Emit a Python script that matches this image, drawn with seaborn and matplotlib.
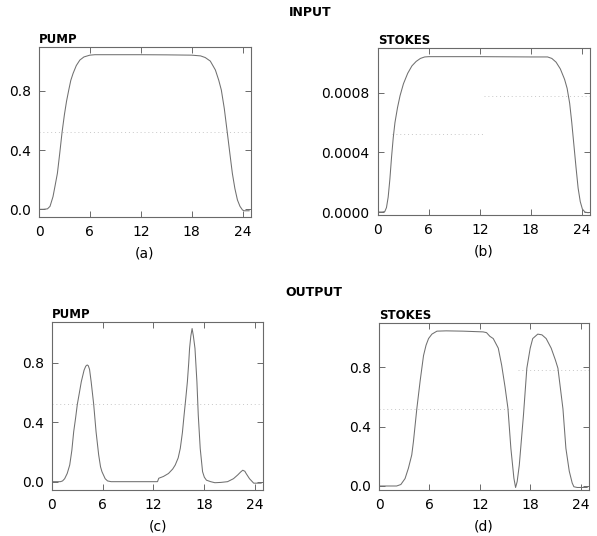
import numpy as np
import pandas as pd
import matplotlib
matplotlib.use("Agg")
import matplotlib.pyplot as plt
import seaborn as sns

# ---------------- data ----------------
x_in_pump = [0.0, 0.5, 1.0, 1.3, 1.65, 1.9, 2.17, 2.45, 2.72, 3.0, 3.25, 3.51, 3.75,
             4.02, 4.4, 4.82, 5.3, 6.0, 6.6, 9.0, 12.0, 15.0, 18.0, 19.05, 19.6,
             20.2, 20.8, 21.2, 21.5, 21.85, 22.2, 22.5, 22.8, 23.1, 23.4, 23.7,
             24.0, 24.2, 24.8]
y_in_pump = [0.0, 0.0, 0.003, 0.02, 0.085, 0.16, 0.243, 0.38, 0.52, 0.64, 0.73, 0.805,
             0.87, 0.917, 0.97, 1.007, 1.028, 1.04, 1.043, 1.043, 1.043, 1.042, 1.04,
             1.035, 1.024, 1.0, 0.94, 0.87, 0.805, 0.68, 0.52, 0.38, 0.243, 0.14,
             0.063, 0.02, -0.005, -0.01, -0.01]

x_in_stokes = [0.0, 0.5, 0.8, 1.0, 1.2, 1.4, 1.6, 1.8, 2.0, 2.3, 2.6, 3.0, 3.5,
               4.0, 4.5, 5.0, 5.5, 6.0, 9.0, 12.0, 15.0, 18.0, 20.0, 20.5, 21.0,
               21.5, 22.0, 22.3, 22.6, 22.85, 23.1, 23.35, 23.6, 23.85, 24.1, 24.4,
               24.8]
y_in_stokes = [0.0, 0.0, 0.000003, 0.00003, 0.0001, 0.00022, 0.00037, 0.0005,
               0.0006, 0.0007, 0.00078, 0.00086, 0.00093, 0.00098, 0.00101,
               0.00103, 0.00104, 0.001042, 0.001042, 0.001042, 0.001041, 0.00104,
               0.00104, 0.00103, 0.001005, 0.00096, 0.00089, 0.00083, 0.00073,
               0.0006, 0.00045, 0.0003, 0.00016, 0.00007, 0.00002, 0.0, -0.000005]

x_out_pump = [0.0, 1.0, 1.25, 1.5, 1.8, 2.1, 2.35, 2.57, 2.8, 3.0, 3.25, 3.47, 3.8,
              4.0, 4.17, 4.3, 4.45, 4.64, 4.94, 5.22, 5.53, 5.75, 5.92, 6.3, 6.58,
              7.0, 9.0, 12.5, 12.65, 13.2, 13.8, 14.3, 14.6, 14.95, 15.2, 15.45,
              15.65, 15.85, 16.04, 16.2, 16.3, 16.45, 16.6, 16.75, 16.94, 17.17,
              17.33, 17.56, 17.84, 18.05, 18.3, 18.8, 19.3, 20.0, 20.8, 21.5, 22.0,
              22.35, 22.6, 22.85, 23.0, 23.4, 23.9, 24.8]
y_out_pump = [0.0, 0.0, 0.005, 0.02, 0.055, 0.112, 0.21, 0.336, 0.43, 0.52, 0.6,
              0.672, 0.75, 0.777, 0.785, 0.78, 0.755, 0.672, 0.52, 0.336, 0.18,
              0.1, 0.067, 0.02, 0.005, 0.0, 0.0, 0.0, 0.023, 0.035, 0.055, 0.085,
              0.112, 0.16, 0.224, 0.33, 0.448, 0.56, 0.672, 0.8, 0.897, 0.98, 1.03,
              0.98, 0.897, 0.672, 0.448, 0.224, 0.067, 0.03, 0.01, 0.0, -0.007,
              -0.005, 0.0, 0.02, 0.045, 0.065, 0.077, 0.07, 0.055, 0.02, -0.01,
              -0.01]

x_out_stokes = [0.0, 2.1, 2.6, 3.1, 3.5, 3.9, 4.1, 4.3, 4.5, 4.9, 5.3, 5.6, 5.9, 6.3,
                6.9, 8.0, 10.0, 12.4, 12.8, 13.2, 13.6, 14.2, 14.6, 15.0, 15.35,
                15.7, 16.06, 16.26, 16.45, 16.7, 17.2, 17.6, 18.0, 18.3, 18.9, 19.4,
                19.9, 20.5, 21.0, 21.3, 21.9, 22.25, 22.65, 23.0, 23.2, 23.6, 24.8]
y_out_stokes = [0.0, 0.0, 0.01, 0.05, 0.12, 0.21, 0.3, 0.41, 0.52, 0.71, 0.88, 0.95,
                0.995, 1.025, 1.045, 1.047, 1.045, 1.04, 1.035, 1.01, 0.995, 0.93,
                0.816, 0.67, 0.524, 0.254, 0.052, -0.01, 0.03, 0.14, 0.48, 0.795,
                0.93, 0.995, 1.025, 1.02, 0.995, 0.93, 0.85, 0.795, 0.52, 0.254,
                0.1, 0.02, -0.005, -0.01, -0.01]

x_ticks = [0, 6, 12, 18, 24]
y_ticks_unit = [0.0, 0.4, 0.8]
y_ticklabels_unit = ["0.0", "0.4", "0.8"]
y_ticks_small = [0.0, 0.0004, 0.0008]
y_ticklabels_small = ["0.0000", "0.0004", "0.0008"]

# faint dotted scan artefacts: (x_start, x_end, level)
artefacts_a = [(0.0, 25.0, 0.52)]
artefacts_b = [(1.6, 12.5, 0.00052), (12.5, 25.0, 0.00078)]
artefacts_c = [(0.0, 25.0, 0.52)]
artefacts_d = [(0.0, 16.0, 0.52), (16.5, 25.0, 0.78)]

# ---------------- figure ----------------
sns.set_theme(style="ticks")
plt.rcParams["font.family"] = ["DejaVu Sans"]

W, H = 597, 536
fig = plt.figure(figsize=(W / 100, H / 100), dpi=100)


def axes_px(left, top, right, bottom):
    return fig.add_axes([left / W, 1 - bottom / H, (right - left) / W, (bottom - top) / H])


line_col = "#707070"
spine_col = "#6a6a6a"

panels = [
    (axes_px(39, 47, 251, 217), x_in_pump, y_in_pump, (-0.052, 1.095),
     y_ticks_unit, y_ticklabels_unit, "PUMP", "(a)", artefacts_a),
    (axes_px(378, 48, 590, 215), x_in_stokes, y_in_stokes, (-0.00002, 0.0011),
     y_ticks_small, y_ticklabels_small, "STOKES", "(b)", artefacts_b),
    (axes_px(52, 322, 263, 490), x_out_pump, y_out_pump, (-0.056, 1.074),
     y_ticks_unit, y_ticklabels_unit, "PUMP", "(c)", artefacts_c),
    (axes_px(379, 323, 589, 490), x_out_stokes, y_out_stokes, (-0.027, 1.10),
     y_ticks_unit, y_ticklabels_unit, "STOKES", "(d)", artefacts_d),
]

for ax, xs, ys, ylim, yt, ytl, title, lab, arts in panels:
    df = pd.DataFrame({"t": xs, "v": ys})
    for x0, x1, lev in arts:
        ax.hlines(lev, x0, x1, colors="#c8c8c8", linestyles=(0, (1, 3)), linewidth=0.7)
    sns.lineplot(data=df, x="t", y="v", ax=ax, color=line_col, linewidth=0.75,
                 sort=False, estimator=None)
    ax.set_xlim(0, 25)
    ax.set_ylim(*ylim)
    ax.set_xticks(x_ticks)
    ax.set_xticklabels([str(v) for v in x_ticks])
    ax.set_yticks(yt)
    ax.set_yticklabels(ytl)
    ax.set_xlabel(lab, fontsize=10, labelpad=5, color="black")
    ax.set_ylabel("")
    ax.set_title(title, loc="left", fontsize=8.5, fontweight="bold", pad=3, color="black")
    ax.tick_params(direction="in", length=4.5, width=0.7, color=spine_col,
                   top=True, right=True, labelsize=10, pad=6, labelcolor="black")
    for s in ax.spines.values():
        s.set_color(spine_col)
        s.set_linewidth(0.8)

fig.text(310 / W, 1 - 13 / H, "INPUT", ha="center", va="center", fontsize=9,
         fontweight="bold", color="black")
fig.text(314 / W, 1 - 292 / H, "OUTPUT", ha="center", va="center", fontsize=9,
         fontweight="bold", color="black")

fig.savefig("out.png", dpi=100, facecolor="white")
